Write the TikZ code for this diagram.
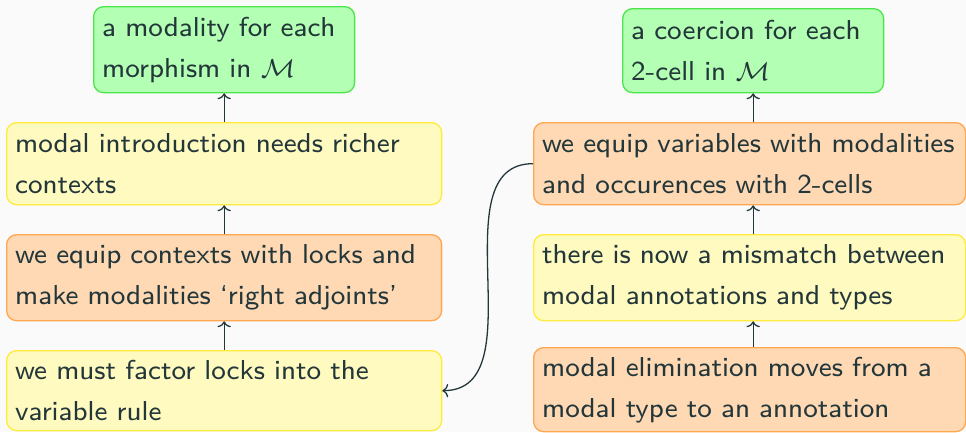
\documentclass[tikz,border=0pt]{standalone}
\usetikzlibrary{arrows.meta}

\definecolor{bgcol}{HTML}{FAFAFA}
\definecolor{ink}{HTML}{23373B}
\definecolor{greenfill}{HTML}{B3FFB3}
\definecolor{greenline}{HTML}{4CE64C}
\definecolor{yellowfill}{HTML}{FFFAC0}
\definecolor{yellowline}{HTML}{FFEB3C}
\definecolor{orangefill}{HTML}{FFD9B3}
\definecolor{orangeline}{HTML}{FFA650}

% one unbreakable line of a card
\newcommand{\cardline}[1]{\mbox{#1}}

\tikzset{
  card/.style={rounded corners=2.7pt, line width=0.35pt, anchor=north west,
    inner xsep=2.3pt, inner ysep=1pt, align=left, text=ink,
    font=\sffamily\fontsize{7.4}{11.07}\selectfont},
  goal/.style={card, fill=greenfill, draw=greenline},
  issue/.style={card, fill=yellowfill, draw=yellowline},
  fix/.style={card, fill=orangefill, draw=orangeline},
  link/.style={draw=ink, line width=0.35pt, -{To[length=1.6pt,width=3.6pt]}},
}

\begin{document}
\begin{tikzpicture}[x=0.27pt, y=-0.27pt]
  \fill[bgcol] (0,0) rectangle (966,432);
  \useasboundingbox (0,0) rectangle (966,432);

  % left column
  \node[goal, text width=65.87pt, minimum height=23.22pt] (lg) at (93,6)
    {\cardline{a modality for each}\\\cardline{morphism in $\mathcal{M}$}};
  \node[issue, text width=112.85pt, minimum height=22.14pt] (lyA) at (6,122)
    {\cardline{modal introduction needs richer}\\\cardline{contexts}};
  \node[fix, text width=112.85pt, minimum height=23.22pt] (lo) at (6,234)
    {\cardline{we equip contexts with locks and}\\\cardline{make modalities `right adjoints'}};
  \node[issue, text width=112.85pt, minimum height=21.6pt] (lyB) at (6,350)
    {\cardline{we must factor locks into the}\\\cardline{variable rule}};

  % right column
  \node[goal, text width=65.87pt, minimum height=22.68pt] (rg) at (622,8)
    {\cardline{a coercion for each}\\\cardline{2-cell in $\mathcal{M}$}};
  \node[fix, text width=112.04pt, minimum height=22.14pt] (roA) at (533,122)
    {\cardline{we equip variables with modalities}\\\cardline{and occurences with 2-cells}};
  \node[issue, text width=112.04pt, minimum height=23.22pt] (ry) at (533,234)
    {\cardline{there is now a mismatch between}\\\cardline{modal annotations and types}};
  \node[fix, text width=112.04pt, minimum height=22.68pt] (roB) at (533,347)
    {\cardline{modal elimination moves from a}\\\cardline{modal type to an annotation}};

  % upward steps, left
  \draw[link] (lyA.north -| lg.south) -- (lg.south);
  \draw[link] (lo.north -| lg.south) -- (lyA.south -| lg.south);
  \draw[link] (lyB.north -| lg.south) -- (lo.south -| lg.south);

  % upward steps, right
  \draw[link] (roA.north -| rg.south) -- (rg.south);
  \draw[link] (ry.north -| rg.south) -- (roA.south -| rg.south);
  \draw[link] (roB.north -| rg.south) -- (ry.south -| rg.south);

  % cross-over
  \draw[link] (roA.west) to[out=180, in=0] (lyB.east);
\end{tikzpicture}
\end{document}
